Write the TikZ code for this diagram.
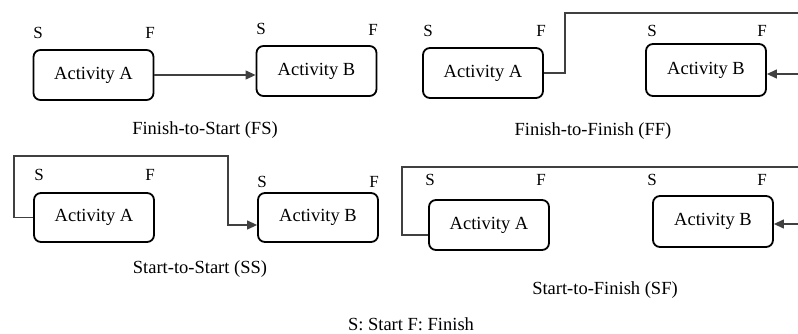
\documentclass[tikz,border=0pt]{standalone}
\usepackage{fontspec}
\setmainfont{Liberation Serif}
\usetikzlibrary{arrows.meta}
\begin{document}
\begin{tikzpicture}[x=1pt,y=-1pt,
  activity/.style={draw=black,line width=1.8pt,rounded corners=7pt,
    minimum width=120pt,minimum height=50pt,inner sep=0pt,
    font=\fontsize{18.5}{20}\selectfont},
  endlabel/.style={inner sep=0pt,font=\fontsize{17}{18}\selectfont},
  caption/.style={inner sep=0pt,font=\fontsize{18.5}{20}\selectfont},
  link/.style={draw=black!75,line width=1.2pt},
  arrowlink/.style={link,-{Triangle[length=10pt,width=9pt]}}]
\useasboundingbox (0,0) rectangle (798,334);

% Finish-to-Start
\node[activity] (fsA) at (93.5,75) {Activity A};
\node[activity] (fsB) at (316.5,71) {Activity B};
\node[endlabel] (fsAS) at (38,33) {S};
\node[endlabel] (fsAF) at (150,33) {F};
\node[endlabel] (fsBS) at (261,29) {S};
\node[endlabel] (fsBF) at (373,30) {F};
\draw[arrowlink] (fsA.east) -- (fsB.west |- fsA.east);
\node[caption] (fsCap) at (205,130) {Finish-to-Start (FS)};

% Finish-to-Finish
\node[activity] (ffA) at (483,73) {Activity A};
\node[activity,minimum height=52pt] (ffB) at (706,70) {Activity B};
\node[endlabel] (ffAS) at (428,31) {S};
\node[endlabel] (ffAF) at (541,31) {F};
\node[endlabel] (ffBS) at (652,31) {S};
\node[endlabel] (ffBF) at (762,31) {F};
\coordinate (ffTop) at (565,13);
\coordinate (ffOut) at (798,13);
\coordinate (ffIn) at (798,74);
\draw[link] (ffA.east) -| (ffTop) -- (ffOut);
\draw[arrowlink] (ffIn) -- (ffB.east |- ffIn);
\node[caption] (ffCap) at (593,131) {Finish-to-Finish (FF)};

% Start-to-Start
\node[activity,minimum height=49pt] (ssA) at (94,217.5) {Activity A};
\node[activity,minimum height=49pt] (ssB) at (318,217.5) {Activity B};
\node[endlabel] (ssAS) at (39,175) {S};
\node[endlabel] (ssAF) at (150,175) {F};
\node[endlabel] (ssBS) at (262,182) {S};
\node[endlabel] (ssBF) at (374,182) {F};
\coordinate (ssTL) at (14,156);
\coordinate (ssDrop) at (228,225);
\draw[arrowlink] (ssA.west) -| (ssTL) -| (ssDrop) -- (ssB.west |- ssDrop);
\node[caption] (ssCap) at (200,269) {Start-to-Start (SS)};

% Start-to-Finish
\node[activity] (sfA) at (489,225) {Activity A};
\node[activity,minimum height=51pt] (sfB) at (713,221.5) {Activity B};
\node[endlabel] (sfAS) at (430,180) {S};
\node[endlabel] (sfAF) at (541,180) {F};
\node[endlabel] (sfBS) at (652,180) {S};
\node[endlabel] (sfBF) at (762,180) {F};
\coordinate (sfOut) at (798,167);
\coordinate (sfTL) at (402,167);
\coordinate (sfLow) at (402,235);
\coordinate (sfIn) at (798,224);
\draw[link] (sfOut) -- (sfTL) -- (sfLow) -- (sfA.west |- sfLow);
\draw[arrowlink] (sfIn) -- (sfB.east |- sfIn);
\node[caption] (sfCap) at (605,290) {Start-to-Finish (SF)};

% Legend
\node[caption] (legend) at (411,324) {S: Start F: Finish};
\end{tikzpicture}
\end{document}
